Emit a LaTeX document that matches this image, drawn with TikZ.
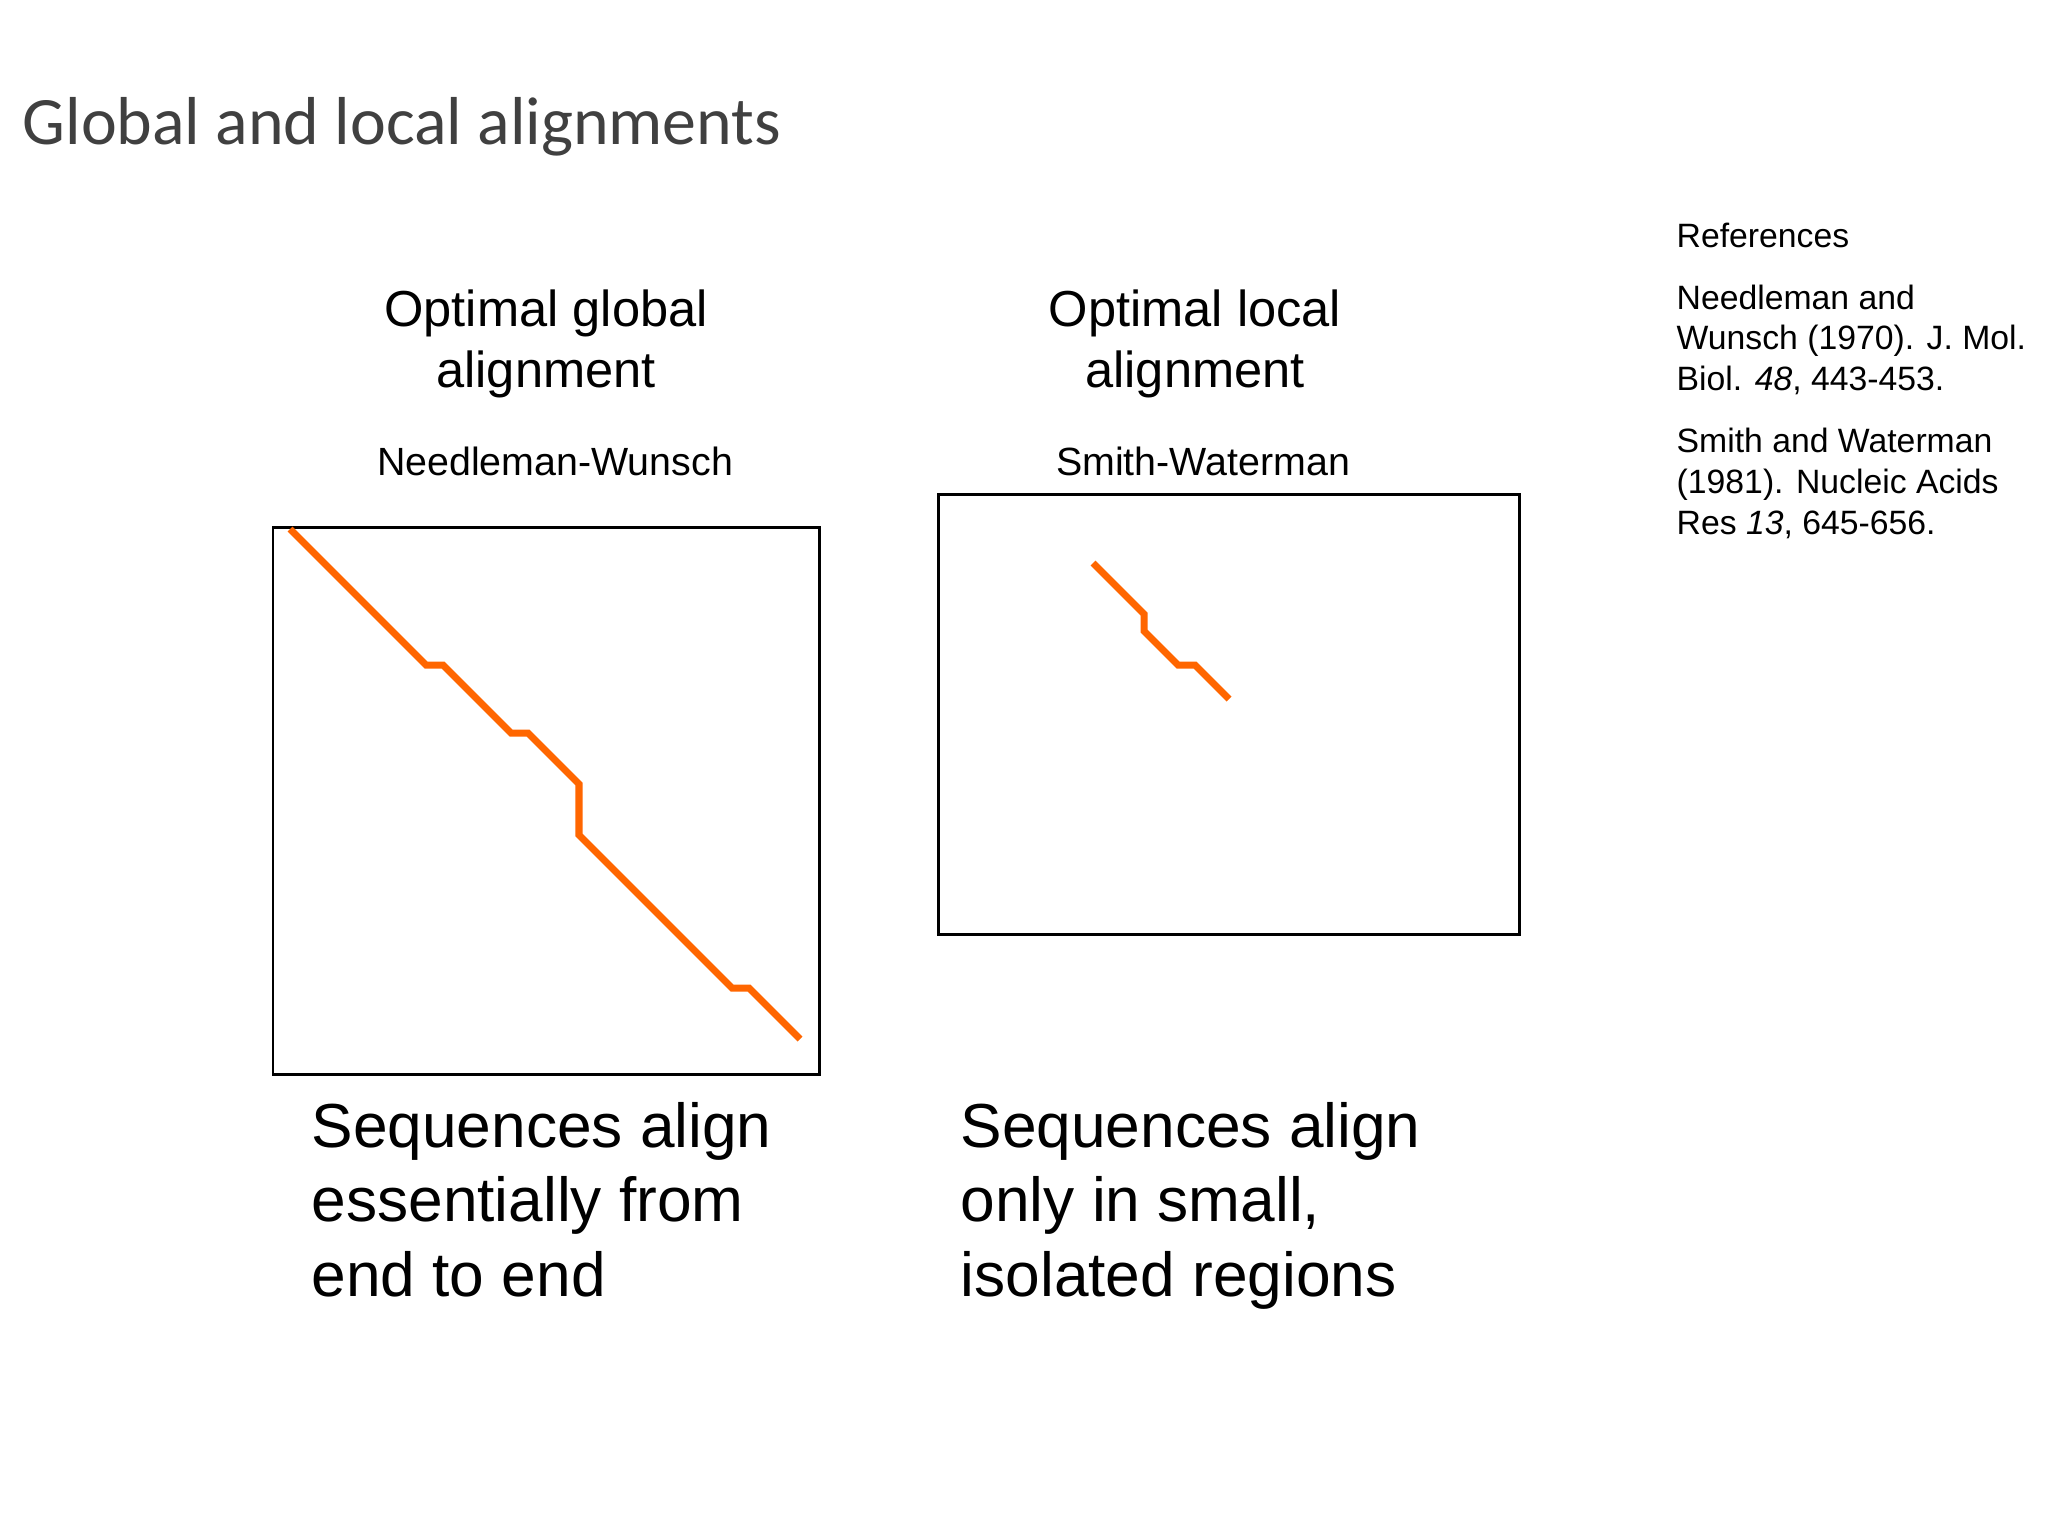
\documentclass[tikz,border=0pt]{standalone}
\usepackage{fontspec}
\setmainfont{Liberation Sans}
\newfontfamily\titlefont{Carlito}
\definecolor{traceorange}{RGB}{255,102,0}
\definecolor{titlegray}{RGB}{64,64,64}

\begin{document}
\begin{tikzpicture}[x=0.1mm, y=-0.1mm,
    frame/.style={draw=black, line width=0.85pt},
    trace/.style={draw=traceorange, line width=2pt},
    heading/.style={anchor=base, align=center, inner sep=0pt, font=\fontsize{14.4}{17.1}\selectfont},
    method/.style={anchor=base, inner sep=0pt, font=\fontsize{11.2}{13.4}\selectfont},
    summary/.style={anchor=base west, align=left, inner sep=0pt, font=\fontsize{17.7}{21.2}\selectfont},
    refs/.style={anchor=base west, align=left, inner sep=0pt, font=\fontsize{9.6}{11.6}\selectfont}]

    \useasboundingbox (0, 0) rectangle (2048, 1536);

    \node[anchor=base west, inner sep=0pt, text=titlegray, font=\titlefont\fontsize{19.3}{23}\selectfont] (title) at (22, 144) {Global and local alignments};

    % global alignment
    \node[heading] (globalhead) at (546, 387) {Optimal global\\alignment};
    \node[method] (nw) at (555, 475) {Needleman-Wunsch};
    \draw[frame] (273, 527) rectangle (819, 1074);
    \draw[trace] (290, 529) -- ++(136, 136) -- ++(17, 0) -- ++(68, 68) -- ++(17, 0)
        -- ++(51, 51) -- ++(0, 51) -- ++(153, 153) -- ++(17, 0) -- ++(51, 51);
    \node[summary] (globalsum) at (311, 1296) {Sequences align\\essentially from\\end to end};

    % local alignment
    \node[heading] (localhead) at (1195, 387) {Optimal local\\alignment};
    \node[method] (sw) at (1203, 475) {Smith-Waterman};
    \draw[frame] (938, 494) rectangle (1519, 934);
    \draw[trace] (1093, 563) -- ++(51, 51) -- ++(0, 17) -- ++(34, 34) -- ++(17, 0) -- ++(34, 34);
    \node[summary] (localsum) at (960, 1296) {Sequences align\\only in small,\\isolated regions};

    % references
    \node[refs] (refs) at (1676, 534) {References\\[6pt]
        Needleman and\\Wunsch (1970). J. Mol.\\Biol. \textit{48}, 443-453.\\[6pt]
        Smith and Waterman\\(1981). Nucleic Acids\\Res \textit{13}, 645-656.};
\end{tikzpicture}
\end{document}
